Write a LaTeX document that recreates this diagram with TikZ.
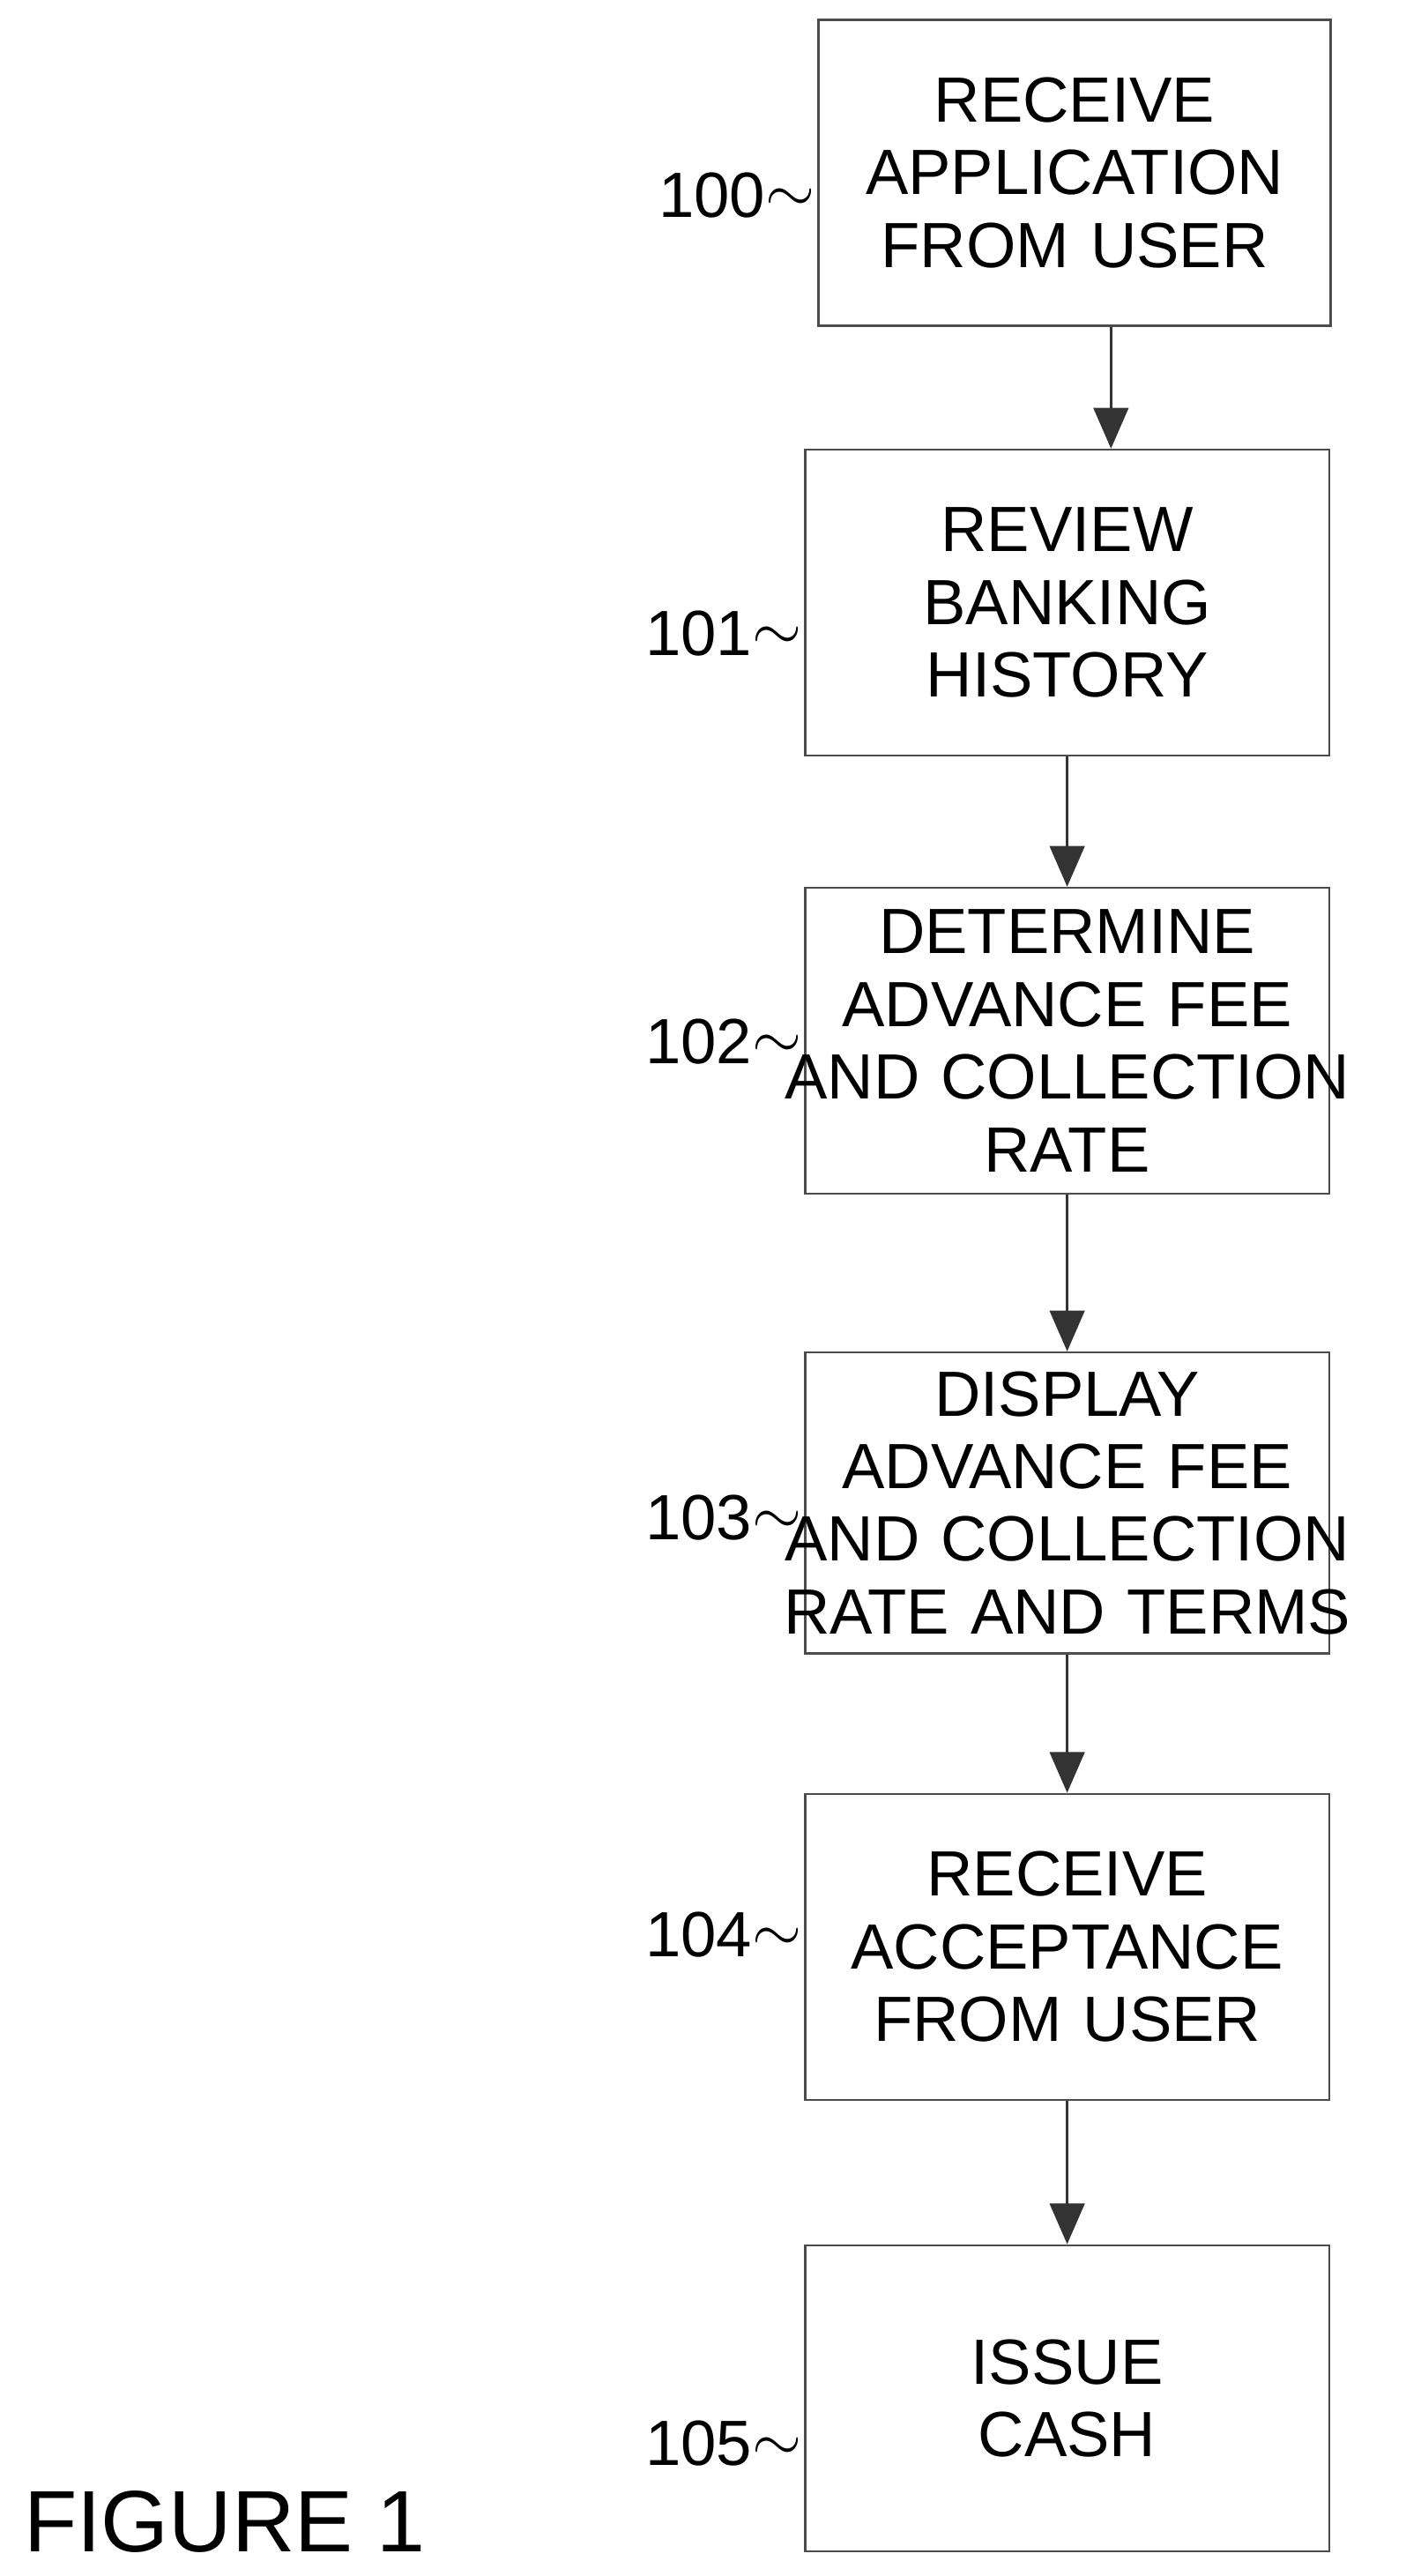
\documentclass[tikz,border=0pt]{standalone}
\usepackage{fontspec}
\setmainfont{Liberation Sans}
\usetikzlibrary{arrows.meta,positioning}
\tikzset{
  stepbox/.style={draw=black!70,thin,text width=3.17cm,minimum height=1.85cm,align=center,inner sep=0pt,font=\fontsize{11}{12.5}\selectfont},
  reflbl/.style={font=\fontsize{11}{12}\selectfont},
  flow/.style={-{Triangle[length=7pt,width=6pt]},black!80,thin}
}
\newcommand{\refsq}{\raisebox{0.15ex}{$\sim$}}
\newcommand{\wide}[1]{\makebox[3.17cm][c]{#1}}
\begin{document}
\begin{tikzpicture}
\useasboundingbox (0,0) rectangle (8.5,-15.58);

\node[stepbox,text width=3.1cm] (b100) at (6.5,-1.045){RECEIVE\\APPLICATION\\FROM USER};
\node[stepbox] (b101) at (6.455,-3.645){REVIEW\\BANKING\\HISTORY};
\node[stepbox] (b102) at (6.455,-6.295){DETERMINE\\ADVANCE FEE\\\wide{AND COLLECTION}\\RATE};
\node[stepbox,minimum height=1.82cm] (b103) at (6.455,-9.09){DISPLAY\\ADVANCE FEE\\\wide{AND COLLECTION}\\\wide{RATE AND TERMS}};
\node[stepbox] (b104) at (6.455,-11.775){RECEIVE\\ACCEPTANCE\\FROM USER};
\node[stepbox] (b105) at (6.455,-14.505){ISSUE\\CASH};

\node[reflbl,left,inner sep=1pt] (l100) at (4.97,-1.18){100\refsq};
\node[reflbl,left,inner sep=1pt] (l101) at (4.89,-3.83){101\refsq};
\node[reflbl,left,inner sep=1pt] (l102) at (4.89,-6.3){102\refsq};
\node[reflbl,left,inner sep=1pt] (l103) at (4.89,-9.18){103\refsq};
\node[reflbl,left,inner sep=1pt] (l104) at (4.89,-11.7){104\refsq};
\node[reflbl,left,inner sep=1pt] (l105) at (4.89,-14.78){105\refsq};

\node[right,font=\fontsize{15}{16}\selectfont] (fig) at (0.02,-15.25){FIGURE 1};

\draw[flow] (b100.south -| 6.72,0) -- (b101.north -| 6.72,0);
\draw[flow] (b101) -- (b102);
\draw[flow] (b102) -- (b103);
\draw[flow] (b103) -- (b104);
\draw[flow] (b104) -- (b105);
\end{tikzpicture}
\end{document}
